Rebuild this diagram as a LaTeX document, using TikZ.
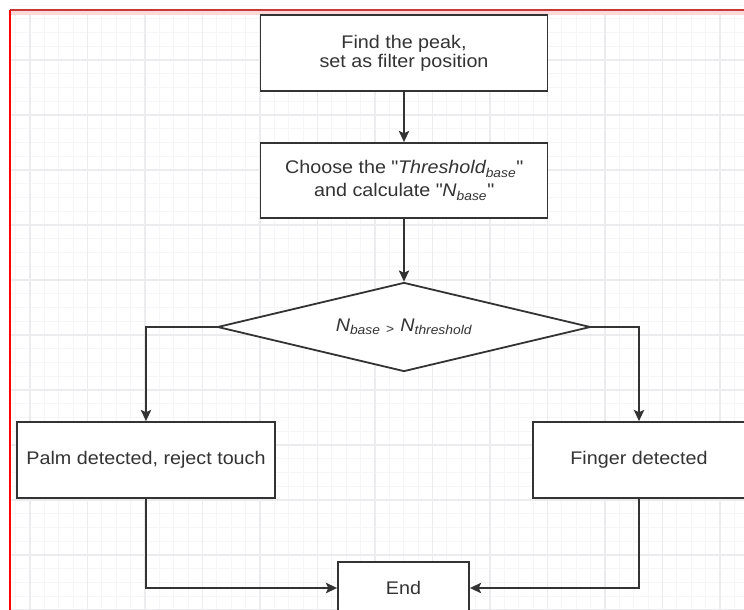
\documentclass[tikz,border=0pt]{standalone}
\usepackage{fontspec}
\setmainfont{Liberation Sans}[FakeStretch=1.08]
\usepackage{tikz}
\usetikzlibrary{arrows.meta,shapes.geometric,positioning}
\usepackage{xcolor}
\definecolor{lineg}{RGB}{51,51,51}
\definecolor{gridmaj}{RGB}{236,236,238}
\definecolor{gridmin}{RGB}{246,246,248}
\tikzstyle{block} = [draw=lineg, line width=0.45mm, fill=white, text=lineg, align=center, inner sep=0pt, font=\fontsize{13}{13.5}\selectfont]
\tikzstyle{decision} = [diamond, aspect=4.19, draw=lineg, line width=0.45mm, fill=white, text=lineg, inner sep=0pt, minimum width=93.25mm, minimum height=22.25mm, font=\fontsize{13}{13.5}\selectfont]
\tikzstyle{arrow} = [line width=0.45mm, draw=lineg, -{Stealth[length=2.8mm,width=2.6mm,inset=0.6mm]}]
\begin{document}
\begin{tikzpicture}[x=0.25mm, y=-0.25mm]
\useasboundingbox (0,0) rectangle (744,610);
% Background grid
\foreach \i in {-1,...,50} \draw[gridmin, line width=0.2mm] ({30+\i*14.375},10) -- ({30+\i*14.375},610);
\foreach \i in {0,...,44} \draw[gridmin, line width=0.2mm] (10,{5+\i*13.75}) -- (744,{5+\i*13.75});
\foreach \i in {0,...,12} \draw[gridmaj, line width=0.3mm] ({30+\i*57.5},10) -- ({30+\i*57.5},610);
\foreach \i in {1,...,11} \draw[gridmaj, line width=0.3mm] (10,{5+\i*55}) -- (744,{5+\i*55});
\draw[red!55!gray, line width=0.3mm] (10,10) -- (744,10);
\draw[red!15, line width=0.8mm] (11,13) -- (744,13);
\draw[red, line width=0.3mm] (10,10) -- (10,610);

% Steps
\node[block, minimum width=71.75mm, minimum height=19mm] (peak) at (404,53) {Find the peak,\\set as filter position};
\node[block, minimum width=71.75mm, minimum height=18.75mm] (choose) at (404,180.5) {Choose the \textquotedbl\textit{Threshold\textsubscript{base}}\textquotedbl\\[3pt]and calculate \textquotedbl\textit{N\textsubscript{base}}\textquotedbl};
\node[decision] (compare) at (404,327) {\raisebox{3pt}{\textit{N\textsubscript{base}} \textsubscript{>} \textit{N\textsubscript{threshold}}}};

% Outcomes
\node[block, minimum width=64.5mm, minimum height=19mm] (palm) at (146,460) {Palm detected, reject touch};
\node[block, minimum width=53mm, minimum height=19mm] (finger) at (639,460) {Finger detected};
\node[block, minimum width=32.75mm, minimum height=13mm] (end) at (403.5,588) {End};

% Connectors
\draw[arrow] (peak) -- (choose);
\draw[arrow] (choose) -- (compare);
\draw[arrow] (compare.west) -| (palm.north);
\draw[arrow] (compare.east) -| (finger.north);
\draw[arrow] (palm.south) |- (end.west);
\draw[arrow] (finger.south) |- (end.east);
\end{tikzpicture}
\end{document}
